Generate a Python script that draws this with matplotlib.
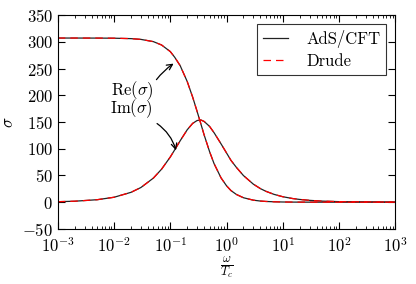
import matplotlib
matplotlib.use("Agg")
import matplotlib.pyplot as plt

plt.rcParams['font.family'] = 'serif'
plt.rcParams['font.serif'] = ['cmr10']
plt.rcParams['mathtext.fontset'] = 'cm'
plt.rcParams['axes.formatter.use_mathtext'] = True

omega = [1e-3, 2e-3, 5e-3, 1e-2, 2e-2, 3e-2, 5e-2, 7e-2, 0.1, 0.12, 0.15, 0.2, 0.25, 0.3,
         0.35, 0.4, 0.5, 0.6, 0.8, 1.0, 1.2, 1.5, 2.0, 3.0, 4.0, 5.0, 7.0, 10.0, 15.0,
         20.0, 30.0, 50.0, 100.0, 1000.0]
re_ads = [307.0, 307.0, 306.9, 306.7, 305.9, 304.5, 300.3, 294.0, 281.7, 271.0, 255.3,
          225.7, 196.5, 169.7, 146.4, 125.8, 94.5, 72.2, 45.4, 30.7, 21.7, 14.4, 8.3,
          3.75, 2.1, 1.36, 0.7, 0.34, 0.15, 0.085, 0.04, 0.01, 0.0, 0.0]
im_ads = [0.9, 1.8, 4.6, 9.2, 18.4, 27.4, 45.0, 61.7, 84.5, 98.0, 114.9, 135.4, 147.4,
          152.7, 153.7, 151.0, 141.7, 130.0, 109.0, 92.1, 78.2, 65.0, 49.8, 33.7, 25.4,
          20.4, 14.6, 10.2, 6.8, 5.1, 3.4, 2.0, 1.0, 0.1]
re_drude = re_ads
im_drude = im_ads

fig = plt.figure(figsize=(4.16, 2.84), dpi=100)
ax = fig.add_axes([0.139, 0.194, 0.811, 0.753])

ax.plot(omega, re_ads, color='#222222', lw=0.9, label='AdS/CFT')
ax.plot(omega, im_ads, color='#222222', lw=0.9)
ax.plot(omega, re_drude, color='red', lw=0.9, dashes=(6, 4), label='Drude')
ax.plot(omega, im_drude, color='red', lw=0.9, dashes=(6, 4))

ax.set_xscale('log')
ax.set_xlim(1e-3, 1e3)
ax.set_ylim(-50, 350)
ax.set_yticks([-50, 0, 50, 100, 150, 200, 250, 300, 350])
ax.tick_params(which='both', direction='in', top=True, right=True, labelsize=12)
ax.tick_params(which='major', length=5)
ax.tick_params(which='minor', length=2.5)
ax.tick_params(axis='x', pad=5)
ax.set_xlabel(r'$\frac{\omega}{T_c}$', fontsize=12.5, labelpad=0)
ax.set_ylabel(r'$\sigma$', fontsize=12, labelpad=4)

ax.text(0.0207, 208, r'$\mathrm{Re}(\sigma)$', ha='center', va='center', fontsize=12)
ax.text(0.0207, 175, r'$\mathrm{Im}(\sigma)$', ha='center', va='center', fontsize=12)
ax.annotate('', xy=(0.126, 262), xytext=(0.053, 225),
            arrowprops=dict(arrowstyle='->', color='black', lw=0.9,
                            connectionstyle='arc3,rad=-0.1'))
ax.annotate('', xy=(0.13, 92), xytext=(0.053, 150),
            arrowprops=dict(arrowstyle='->', color='black', lw=0.9,
                            connectionstyle='arc3,rad=-0.2'))

leg = ax.legend(loc='upper right', fontsize=12, fancybox=False, edgecolor='black',
                handlelength=1.5, handletextpad=1.1, borderpad=0.35, labelspacing=0.35,
                borderaxespad=0.55)
leg.get_frame().set_linewidth(0.8)

fig.savefig('out.png', dpi=100)
